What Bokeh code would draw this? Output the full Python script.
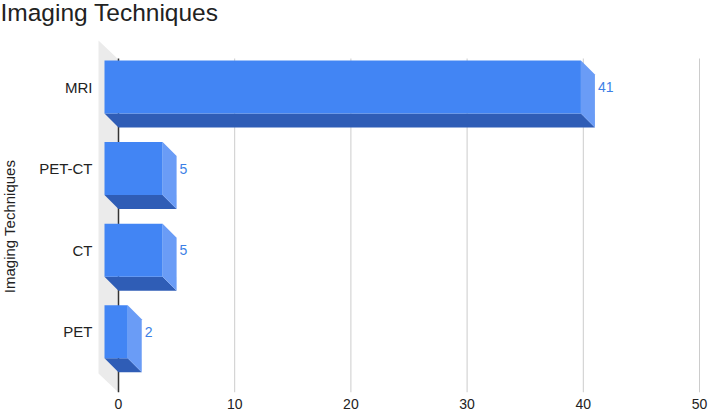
import math
from bokeh.plotting import figure
from bokeh.models import Range1d, FixedTicker, Label
from bokeh.core.properties import value
from bokeh.embed import file_html
from bokeh.resources import INLINE

# ---- data ----
categories = ["MRI", "PET-CT", "CT", "PET"]
counts = [41, 5, 5, 2]
x_ticks = [0, 10, 20, 30, 40, 50]
chart_title = "Imaging Techniques"
y_title = "Imaging Techniques"

# ---- layout constants (pixels) ----
W, H = 708, 413
BB = 21                # room for the x tick labels
frame_w = W
frame_h = H - BB
ZERO_PX = 118          # canvas x of value 0
PX_X = 11.62           # pixels per x unit
PX_Y = 81.6            # pixels per category step
FIRST_PX = 86.5        # canvas y of the first category centre
WALL_TOP = 40          # canvas y of the wall top
WALL_PX = 20
DEPTH = 14
BAR_PX = 53

x0 = -ZERO_PX / PX_X
x1 = x0 + frame_w / PX_X
y_top = -FIRST_PX / PX_Y
y_bot = y_top + frame_h / PX_Y
DX = DEPTH / PX_X
DY = DEPTH / PX_Y
BH = BAR_PX / PX_Y
WX = WALL_PX / PX_X
wall_top = y_top + WALL_TOP / PX_Y

FRONT = "#4285f4"
SIDE = "#6a9cf6"
BOTTOM = "#2f5db6"
FONT = "Liberation Sans"
TXT = "#222222"

p = figure(width=W, height=H, output_backend="svg", toolbar_location=None,
           x_range=Range1d(x0, x1), y_range=Range1d(y_bot, y_top),
           min_border_left=0, min_border_right=0, min_border_top=0,
           min_border_bottom=BB)
p.outline_line_color = None
p.xgrid.visible = False
p.ygrid.visible = False
p.yaxis.visible = False
p.background_fill_color = "white"

# left wall
wy = WALL_PX / PX_Y
p.patch([-WX, 0, 0, -WX], [wall_top, wall_top + wy * 0.95, y_bot, y_bot - wy * 0.95],
        fill_color="#ebebeb", line_color=None)

# gridlines
g_top = wall_top + 18 / PX_Y
p.segment(x0=x_ticks[1:], y0=[g_top] * (len(x_ticks) - 1),
          x1=x_ticks[1:], y1=[y_bot] * (len(x_ticks) - 1),
          line_color="#cccccc", line_width=1)
# zero axis line
p.segment(x0=[0], y0=[g_top], x1=[0], y1=[y_bot], line_color="#333333", line_width=1.5)

# 3D bars
idx = list(range(len(categories)))
front_xs, front_ys, side_xs, side_ys, bot_xs, bot_ys = [], [], [], [], [], []
for i, v in zip(idx, counts):
    t, b = i - BH / 2, i + BH / 2
    front_xs.append([-DX, v - DX, v - DX, -DX])
    front_ys.append([t, t, b, b])
    side_xs.append([v - DX, v, v, v - DX])
    side_ys.append([t, t + DY, b + DY, b])
    bot_xs.append([-DX, v - DX, v, 0])
    bot_ys.append([b, b, b + DY, b + DY])
p.patches(bot_xs, bot_ys, fill_color=BOTTOM, line_color=None)
p.patches(side_xs, side_ys, fill_color=SIDE, line_color=None)
p.patches(front_xs, front_ys, fill_color=FRONT, line_color=None)

# value labels
p.text(x=counts, y=idx, text=[str(v) for v in counts], x_offset=3,
       text_baseline="middle", text_align="left", text_font_size="14px",
       text_color="#3d7fe6", text_font=value(FONT))

# category labels (left of the wall)
p.text(x=[0] * len(categories), y=idx, text=categories, x_offset=-(WALL_PX + 6),
       text_baseline="middle", text_align="right", text_font_size="15px",
       text_color=TXT, text_font=value(FONT))

# x axis
xa = p.xaxis[0]
xa.ticker = FixedTicker(ticks=x_ticks)
xa.axis_line_color = None
xa.major_tick_line_color = None
xa.minor_tick_line_color = None
xa.major_tick_out = 0
xa.major_tick_in = 0
xa.major_label_standoff = 6
xa.major_label_text_font_size = "14px"
xa.major_label_text_font = FONT
xa.major_label_text_color = TXT

# chart title and axis title (screen units, measured from the frame's bottom-left)
p.add_layout(Label(x=0, y=frame_h - 12, x_units="screen", y_units="screen",
                   text=chart_title, text_font_size="24.5px", text_font=FONT,
                   text_color=TXT, text_align="left", text_baseline="alphabetic"))
p.add_layout(Label(x=8.5, y=frame_h - 226, x_units="screen", y_units="screen",
                   text=y_title, angle=math.pi / 2, text_font_size="15px",
                   text_font=FONT, text_color=TXT, text_align="center",
                   text_baseline="alphabetic"))

open("out.html", "w").write(file_html(p, INLINE))
